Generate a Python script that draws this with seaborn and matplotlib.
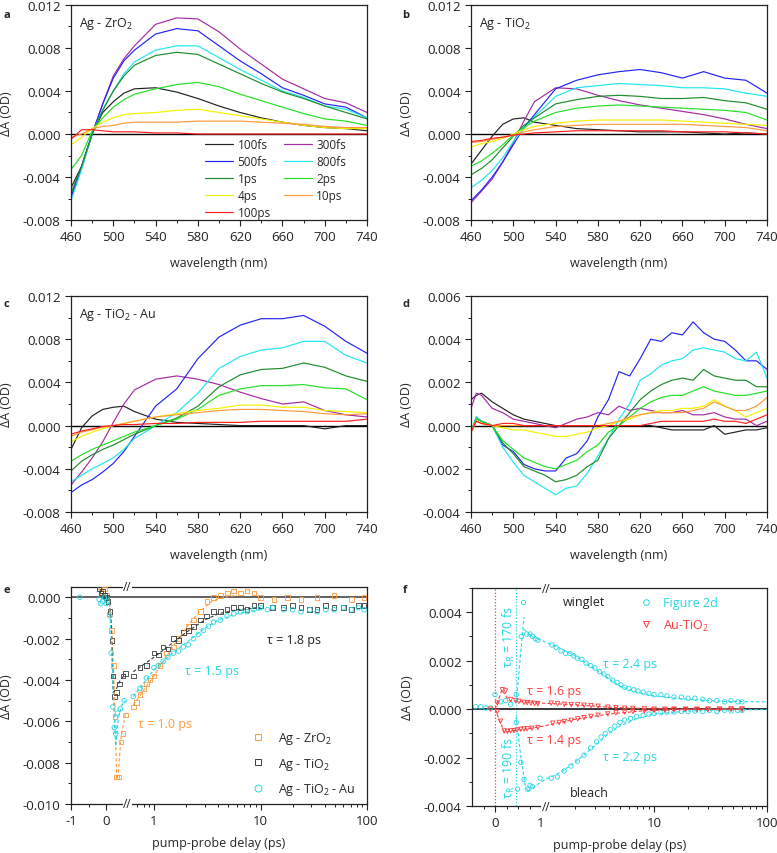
import numpy as np
import pandas as pd
import matplotlib
matplotlib.use("Agg")
import matplotlib.pyplot as plt
import matplotlib.transforms as mtransforms
from matplotlib.lines import Line2D
from matplotlib.ticker import FixedLocator, FormatStrFormatter, MultipleLocator
import seaborn as sns

# ---------------------------------------------------------------- data
DELAYS = ["100fs", "300fs", "500fs", "800fs", "1ps", "2ps", "4ps", "10ps", "100ps"]
DELAY_COLORS = ["#222222", "#a52aa5", "#2323f5", "#1fe6f0", "#1e8c2a",
                "#22e022", "#f2f200", "#ff9a3c", "#ff2020"]

# wavelength grids (nm)
WL = [460, 470, 480, 490, 500, 510, 520, 540, 560, 580, 600, 620, 640, 660, 680, 700, 720, 740]
WL_D = [460, 465, 470, 480, 490, 500, 510, 520, 530, 540, 550, 560, 570, 580, 590,
        600, 610, 620, 630, 640, 650, 660, 670, 680, 690, 700, 710, 720, 730, 740]

# dA spectra in mOD, rows follow DELAYS
SPEC_A = [
    [-5.0, -3.0, 0.0, 2.0, 3.0, 3.8, 4.2, 4.3, 3.9, 3.3, 2.6, 2.0, 1.5, 1.1, 0.8, 0.6, 0.5, 0.3],
    [-6.0, -3.2, 0.0, 2.8, 5.4, 7.0, 8.2, 10.2, 10.8, 10.7, 9.5, 7.9, 6.5, 5.1, 4.2, 3.3, 2.9, 2.0],
    [-5.8, -3.0, 0.0, 2.8, 5.2, 6.8, 7.8, 9.3, 9.8, 9.6, 8.2, 6.8, 5.6, 4.3, 3.6, 2.8, 2.5, 1.5],
    [-6.2, -3.3, 0.0, 2.3, 4.0, 5.6, 6.7, 7.8, 8.2, 8.2, 7.1, 6.0, 5.0, 4.0, 3.4, 2.6, 2.3, 1.5],
    [-5.5, -3.0, 0.0, 2.2, 4.0, 5.4, 6.4, 7.3, 7.6, 7.4, 6.5, 5.6, 4.7, 3.9, 3.3, 2.6, 2.0, 1.4],
    [-3.3, -2.0, 0.3, 1.5, 2.5, 3.2, 3.7, 4.2, 4.6, 4.8, 4.4, 3.7, 3.1, 2.5, 1.9, 1.4, 1.2, 0.8],
    [-1.0, -0.3, 0.5, 1.1, 1.5, 1.8, 1.9, 2.0, 2.2, 2.3, 2.0, 1.7, 1.4, 1.1, 0.8, 0.6, 0.5, 0.5],
    [-0.3, 0.0, 0.5, 0.7, 0.8, 1.0, 1.1, 1.1, 1.1, 1.2, 1.2, 1.2, 1.1, 1.0, 0.9, 0.7, 0.6, 0.6],
    [-0.5, 0.4, 0.4, 0.3, 0.2, 0.2, 0.2, 0.1, 0.1, 0.0, 0.0, 0.0, 0.0, 0.0, 0.0, 0.0, 0.0, 0.0],
]
SPEC_B = [
    [-2.8, -1.5, -0.2, 0.9, 1.4, 1.5, 1.1, 0.8, 0.5, 0.4, 0.3, 0.2, 0.2, 0.2, 0.1, 0.0, 0.1, 0.0],
    [-6.4, -5.3, -4.2, -2.6, -0.8, 1.2, 3.0, 4.3, 4.2, 3.6, 3.1, 2.7, 2.4, 2.1, 1.8, 1.4, 0.9, 0.5],
    [-6.2, -5.2, -4.0, -2.6, -1.0, 0.6, 1.8, 4.2, 5.0, 5.5, 5.8, 6.0, 5.7, 5.2, 5.8, 5.2, 5.0, 3.8],
    [-5.0, -4.3, -3.4, -2.2, -0.7, 0.5, 1.6, 3.5, 4.3, 4.5, 4.7, 4.6, 4.5, 4.3, 4.3, 4.2, 3.8, 3.5],
    [-3.8, -3.2, -2.4, -1.3, -0.2, 0.8, 1.5, 2.8, 3.2, 3.5, 3.6, 3.5, 3.3, 3.3, 3.4, 3.1, 2.9, 2.3],
    [-3.0, -2.5, -1.8, -1.0, -0.1, 0.6, 1.2, 2.0, 2.4, 2.6, 2.7, 2.6, 2.5, 2.4, 2.3, 2.2, 2.0, 1.3],
    [-1.2, -0.9, -0.7, -0.4, 0.0, 0.4, 0.7, 1.0, 1.2, 1.3, 1.3, 1.3, 1.3, 1.2, 1.1, 1.0, 0.9, 0.8],
    [-0.8, -0.7, -0.5, -0.3, -0.1, 0.2, 0.4, 0.7, 0.8, 0.9, 0.9, 0.9, 0.9, 0.9, 0.8, 0.7, 0.6, 0.3],
    [-0.7, -0.6, -0.4, -0.3, -0.1, 0.0, 0.1, 0.2, 0.3, 0.3, 0.3, 0.3, 0.3, 0.2, 0.2, 0.2, 0.1, 0.0],
]
SPEC_C = [
    [-2.2, -0.2, 0.9, 1.5, 1.7, 1.8, 1.3, 0.6, 0.3, 0.2, 0.1, 0.0, 0.0, 0.0, 0.0, -0.3, 0.0, 0.0],
    [-5.5, -4.3, -3.0, -1.5, 0.3, 2.0, 3.3, 4.3, 4.6, 4.3, 3.8, 3.1, 2.5, 2.0, 2.2, 1.4, 1.0, 0.8],
    [-6.2, -5.5, -5.0, -4.3, -3.5, -2.4, -1.0, 1.8, 3.4, 6.2, 8.2, 9.3, 9.9, 9.9, 10.2, 9.2, 7.8, 6.7],
    [-5.2, -4.6, -4.0, -3.5, -3.0, -2.2, -1.2, 0.0, 1.2, 3.0, 5.3, 6.4, 7.0, 7.2, 7.8, 7.8, 6.5, 5.8],
    [-4.2, -3.3, -2.7, -2.2, -1.8, -1.3, -0.8, 0.0, 0.7, 1.8, 3.6, 4.7, 5.2, 5.3, 5.8, 5.4, 4.6, 4.1],
    [-3.3, -2.7, -2.2, -1.8, -1.4, -1.0, -0.6, 0.0, 0.6, 1.5, 2.8, 3.4, 3.7, 3.7, 3.8, 3.5, 3.4, 2.4],
    [-1.5, -1.0, -0.6, -0.3, 0.0, 0.2, 0.4, 0.8, 1.1, 1.4, 1.6, 1.9, 1.9, 1.7, 1.7, 1.4, 1.3, 1.2],
    [-1.0, -0.6, -0.4, -0.1, 0.0, 0.2, 0.4, 0.8, 1.0, 1.2, 1.4, 1.5, 1.5, 1.4, 1.3, 1.1, 1.0, 1.1],
    [-0.8, -0.5, -0.3, -0.1, 0.0, 0.1, 0.1, 0.2, 0.2, 0.3, 0.3, 0.3, 0.4, 0.4, 0.4, 0.4, 0.4, 0.6],
]
SPEC_D = [
    [1.2, 1.4, 1.5, 1.1, 0.8, 0.5, 0.3, 0.2, 0.1, 0.0, 0.0, 0.0, 0.0, 0.0, 0.0,
     0.0, 0.0, 0.0, 0.0, -0.1, -0.2, -0.2, -0.2, -0.2, 0.0, -0.4, -0.3, -0.2, -0.2, -0.1],
    [0.8, 1.5, 1.4, 0.8, 0.6, 0.3, 0.2, 0.1, 0.0, -0.1, 0.1, 0.3, 0.4, 0.6, 0.5,
     0.9, 0.7, 0.8, 0.7, 0.6, 0.6, 0.7, 0.5, 0.5, 0.6, 0.4, 0.3, 0.3, 0.0, 0.2],
    [-0.3, 0.4, 0.2, 0.0, -0.9, -1.2, -1.8, -2.0, -2.1, -2.1, -1.5, -1.3, -0.7, 0.4, 1.2,
     2.5, 2.3, 3.1, 4.0, 3.9, 4.3, 4.2, 4.8, 4.3, 4.0, 3.9, 3.5, 3.0, 3.0, 2.6],
    [-0.3, 0.4, 0.2, 0.0, -1.0, -1.7, -2.3, -2.6, -2.9, -3.2, -2.9, -2.8, -2.2, -1.4, -0.6,
     0.3, 1.0, 2.1, 2.4, 2.8, 3.0, 3.1, 3.5, 3.6, 3.5, 3.4, 3.1, 3.0, 3.4, 2.2],
    [-0.3, 0.3, 0.2, 0.0, -0.8, -1.3, -1.9, -2.1, -2.3, -2.6, -2.5, -2.3, -1.9, -1.6, -0.6,
     0.0, 0.6, 1.2, 1.6, 1.9, 2.1, 2.2, 2.1, 2.6, 2.3, 2.2, 2.1, 2.1, 1.8, 1.8],
    [-0.3, 0.3, 0.2, 0.0, -0.7, -1.1, -1.5, -1.7, -1.9, -2.0, -1.8, -1.6, -1.2, -0.9, -0.3,
     0.0, 0.4, 0.8, 1.1, 1.3, 1.4, 1.4, 1.6, 1.8, 1.6, 1.5, 1.4, 1.4, 1.5, 1.6],
    [-0.3, 0.2, 0.1, 0.0, -0.1, -0.2, -0.2, -0.3, -0.4, -0.5, -0.5, -0.4, -0.3, -0.1, 0.0,
     0.2, 0.3, 0.5, 0.6, 0.7, 0.7, 0.8, 0.8, 0.9, 1.2, 0.9, 0.7, 0.4, 0.6, 0.8],
    [-0.3, 0.2, 0.1, 0.0, 0.0, 0.0, 0.0, 0.0, 0.0, 0.0, 0.0, 0.0, 0.0, 0.0, 0.1,
     0.2, 0.4, 0.5, 0.6, 0.6, 0.6, 0.6, 0.7, 0.8, 1.1, 0.9, 0.7, 0.7, 0.9, 1.3],
    [-0.3, 0.2, 0.1, 0.0, 0.1, 0.1, 0.0, 0.0, 0.0, 0.0, 0.0, 0.0, 0.0, 0.0, 0.0,
     0.0, 0.0, 0.0, 0.1, 0.2, 0.2, 0.2, 0.2, 0.2, 0.3, 0.2, 0.2, 0.1, 0.3, 0.5],
]

# panel e: kinetics (delay in ps, dA in mOD)
E_ZRO2_T = [-0.2, -0.15, -0.1, -0.05, 0.0, 0.05, 0.1, 0.15, 0.2, 0.25, 0.3, 0.35, 0.42, 0.48, 0.54,
            0.64, 0.69, 0.74, 0.8, 0.85, 0.92, 1.0, 1.14, 1.32, 1.52, 1.7, 1.89, 2.1, 2.35, 2.72,
            3.14, 3.63, 4.2, 4.9, 5.6, 6.5, 7.5, 8.7, 10, 13.4, 17.9, 24, 34, 49, 71, 94]
E_ZRO2_Y = [0.5, 0.3, 0.2, 0.4, 0.1, -0.2, -0.8, -1.6, -3.3, -5.8, -8.7, -8.7, -7.0, -6.6, -5.7,
            -5.3, -5.1, -4.7, -4.4, -4.2, -4.0, -3.8, -3.3, -2.7, -2.4, -2.0, -1.7, -1.4, -1.1, -0.7,
            -0.2, 0.0, 0.1, 0.2, 0.3, 0.2, 0.3, 0.2, 0.0, -0.1, 0.0, -0.1, 0.0, 0.1, -0.1, 0.0]
E_TIO2_T = [-0.2, -0.15, -0.1, -0.05, 0.0, 0.05, 0.11, 0.16, 0.19, 0.23, 0.3, 0.38, 0.48, 0.55,
            0.64, 0.74, 0.85, 1.0, 1.1, 1.22, 1.35, 1.52, 1.7, 1.89, 2.1, 2.35, 2.72, 3.1, 3.63,
            4.2, 4.85, 5.6, 6.5, 7.5, 8.7, 10, 13, 16.5, 20, 24, 29, 34, 41, 49, 60, 71, 83, 94]
E_TIO2_Y = [0.4, 0.2, 0.3, 0.1, 0.0, -0.2, -0.7, -2.1, -3.8, -4.8, -4.6, -4.2, -3.8, -3.7,
            -3.8, -3.4, -3.3, -2.7, -2.8, -2.4, -2.5, -2.0, -2.1, -1.7, -1.6, -1.4, -1.1, -0.9, -0.7,
            -0.7, -0.6, -0.5, -0.5, -0.6, -0.4, -0.4, -0.5, -0.5, -0.4, -0.5, -0.6, -0.6, -0.4, -0.5,
            -0.5, -0.6, -0.4, -0.4]
E_AU_T = [-0.75, -0.2, -0.15, -0.1, -0.05, 0.0, 0.04, 0.1, 0.14, 0.19, 0.23, 0.27, 0.32, 0.4, 0.51,
          0.64, 0.74, 0.85, 1.0, 1.1, 1.22, 1.35, 1.52, 1.7, 1.89, 2.1, 2.35, 2.6, 2.9, 3.25, 3.63,
          4.2, 4.85, 5.6, 6.5, 7.5, 8.7, 10, 11.6, 13, 16.5, 20, 24, 29, 34, 41, 49, 60, 71, 83, 94]
E_AU_Y = [0.0, -0.1, -0.3, -0.2, 0.0, -0.3, -0.2, -0.9, -2.7, -5.3, -6.3, -6.6, -5.6, -5.4, -5.0,
          -4.8, -4.4, -3.9, -3.4, -3.3, -3.1, -2.9, -2.7, -2.6, -2.4, -2.3, -2.0, -1.8, -1.6, -1.4,
          -1.2, -1.1, -0.9, -0.8, -0.7, -0.7, -0.6, -0.5, -0.6, -0.5, -0.6, -0.6, -0.7, -0.6, -0.7,
          -0.6, -0.6, -0.5, -0.6, -0.5, -0.6]
# fitted curves, short (before break) and long (after break) parts
E_FIT_ZRO2 = ([0.08, 0.15, 0.22, 0.3, 0.34, 0.42, 0.55], [0.0, -1.3, -4.0, -8.8, -8.6, -6.8, -5.6],
              [0.64, 0.8, 1.0, 1.3, 1.7, 2.2, 2.8, 3.5, 4.5, 6.0], [-5.2, -4.5, -3.8, -2.9, -2.0, -1.2, -0.6, -0.2, 0.0, 0.1])
E_FIT_TIO2 = ([0.08, 0.15, 0.2, 0.3, 0.4, 0.55], [0.0, -1.5, -4.6, -4.4, -4.0, -3.7],
              [0.64, 1.0, 1.5, 2.0, 3.0, 4.0, 6.0, 10.0], [-3.6, -2.9, -2.2, -1.7, -1.1, -0.8, -0.6, -0.5])
E_FIT_AU = ([0.08, 0.15, 0.22, 0.27, 0.35, 0.45, 0.55], [0.0, -2.2, -5.6, -7.2, -5.8, -5.2, -5.0],
            [0.64, 1.0, 1.5, 2.0, 3.0, 4.0, 6.0, 10.0], [-4.8, -3.5, -2.7, -2.2, -1.5, -1.1, -0.8, -0.6])

# panel f: winglet / bleach kinetics (delay in ps, dA in mOD)
F_WING_T = [-0.42, -0.31, -0.2, -0.09, 0.0, 0.12, 0.23, 0.34, 0.46, 0.57, 0.62, 0.69, 0.76, 0.82, 0.88,
            0.93, 1.25, 1.36, 1.5, 1.65, 1.8, 1.95, 2.1, 2.3, 2.5, 2.75, 3.0, 3.3, 3.6, 3.9, 4.3, 4.7,
            5.1, 5.5, 6.0, 6.6, 7.2, 8.0, 9.0, 10, 11.5, 13, 15, 17.5, 20, 23, 27, 31, 36, 42, 48, 55, 60]
F_WING_Y = [0.1, 0.1, 0.05, 0.05, 0.6, 0.3, 0.35, 0.2, 0.6, 3.0, 4.4, 3.1, 3.1, 3.0, 2.9,
            2.85, 2.65, 2.55, 2.4, 2.3, 2.3, 2.2, 2.1, 2.05, 1.9, 1.8, 1.7, 1.55, 1.45, 1.35, 1.2, 1.1,
            1.0, 0.9, 0.85, 0.8, 0.75, 0.7, 0.65, 0.6, 0.6, 0.55, 0.5, 0.5, 0.45, 0.45, 0.4, 0.35,
            0.35, 0.3, 0.35, 0.3, 0.3]
F_BLEACH_T = [0.46, 0.49, 0.56, 0.63, 0.7, 0.76, 0.81, 0.98, 1.23, 1.4, 1.6, 1.84, 2.1, 2.4, 2.75,
              3.1, 3.4, 3.7, 4.1, 4.5, 5.0, 5.5, 6.2, 7.0, 8.0, 9.0, 10, 11.5, 13, 15, 17.5, 20, 23,
              27, 31, 36, 42, 48, 55, 60]
F_BLEACH_Y = [-0.55, -3.3, -2.2, -2.9, -3.3, -3.15, -3.2, -2.85, -2.85, -2.8, -2.55, -2.35, -2.15,
              -1.9, -1.6, -1.35, -1.15, -1.0, -0.85, -0.7, -0.55, -0.45, -0.38, -0.3, -0.25, -0.2,
              -0.18, -0.15, -0.12, -0.12, -0.1, -0.1, -0.08, -0.1, -0.05, -0.1, -0.05, -0.08, -0.05, -0.05]
F_AUP_T = [-0.1, 0.05, 0.16, 0.23, 0.34, 0.45, 0.52, 0.63, 0.7, 0.78, 0.86, 0.93, 1.23, 1.4, 1.61,
           1.85, 2.11, 2.4, 2.77, 3.2, 3.9, 4.6, 5.5, 6.5, 8.2, 10, 12.5, 15, 19, 24, 30, 38, 48, 60]
F_AUP_Y = [0.0, 0.25, 0.8, 0.75, 0.4, 0.35, 0.32, 0.28, 0.27, 0.25, 0.24, 0.22, 0.25, 0.22, 0.2,
           0.19, 0.18, 0.16, 0.14, 0.12, 0.08, 0.06, 0.04, 0.03, 0.01, 0.0, 0.0, 0.0, 0.0, 0.0, 0.0,
           0.0, 0.0, 0.0]
F_AUN_T = [0.05, 0.12, 0.2, 0.27, 0.34, 0.41, 0.48, 0.56, 0.63, 0.7, 0.8, 0.93, 1.27, 1.45, 1.61,
           1.85, 2.11, 2.4, 2.77, 3.2, 3.9, 4.6, 5.5, 6.5, 8.2, 10, 12.5, 15, 19, 24, 30, 38, 48, 60]
F_AUN_Y = [-0.1, -0.5, -0.9, -0.92, -0.9, -0.89, -0.86, -0.83, -0.82, -0.81, -0.79, -0.76, -0.58,
           -0.55, -0.51, -0.46, -0.4, -0.35, -0.3, -0.25, -0.2, -0.15, -0.12, -0.1, -0.07, -0.05,
           -0.04, -0.03, -0.02, -0.02, -0.01, -0.01, 0.0, 0.0]
F_FIT_WING = ([0.46, 0.63], [0.3, 3.8],
              [0.63, 0.8, 1.0, 1.5, 2.0, 3.0, 4.0, 5.0, 7.0, 10, 20, 40, 100],
              [3.3, 3.0, 2.85, 2.5, 2.2, 1.65, 1.25, 0.95, 0.7, 0.55, 0.4, 0.32, 0.3])
F_FIT_BLEACH = ([0.46, 0.55, 0.65, 0.72], [-0.3, -1.8, -3.1, -3.4],
                [0.72, 1.0, 1.5, 2.0, 3.0, 4.0, 5.0, 7.0, 10, 20, 40, 100],
                [-3.4, -3.0, -2.6, -2.2, -1.5, -1.0, -0.7, -0.4, -0.2, -0.08, -0.03, -0.02])
F_FIT_AUP = ([0.0, 0.15, 0.3, 0.6, 1.0, 2.0, 4.0, 8.0, 20, 60],
             [0.0, 0.8, 0.35, 0.3, 0.25, 0.18, 0.08, 0.02, 0.0, 0.0])
F_FIT_AUN = ([0.0, 0.2, 0.4, 0.7, 1.0, 2.0, 4.0, 8.0, 20, 60],
             [0.0, -0.95, -0.88, -0.82, -0.72, -0.42, -0.2, -0.07, -0.01, 0.0])
F_TIME_ZERO = 0.0
F_TIME_RISE = 0.46

CYAN = "#22d8e6"
RED = "#ff3b3b"
ORANGE = "#ff9a3c"
GRAY = "#3a3a3a"
MOD = 1e-3

# ---------------------------------------------------------------- style
sns.set_style("ticks")
plt.rcParams["font.family"] = ["Open Sans", "DejaVu Sans"]
plt.rcParams["axes.unicode_minus"] = False
plt.rcParams["axes.linewidth"] = 0.9
plt.rcParams["xtick.direction"] = "out"
plt.rcParams["ytick.direction"] = "out"
FS = 9


def style_axes(ax):
    for s in ax.spines.values():
        s.set_visible(True)
        s.set_color("#222222")
    ax.tick_params(which="major", length=4, width=0.8, labelsize=FS + 0.5, colors="#222222")
    ax.tick_params(which="minor", length=2.2, width=0.7, colors="#222222")
    ax.tick_params(top=False, right=False, which="both")
    ax.yaxis.set_major_formatter(FormatStrFormatter("%.3f"))
    ax.set_ylabel("ΔA (OD)", fontsize=FS, labelpad=7)


def spectra_frame(wl, rows):
    recs = []
    for name, vals in zip(DELAYS, rows):
        for w, v in zip(wl, vals):
            recs.append((w, v * MOD, name))
    return pd.DataFrame(recs, columns=["wl", "dA", "delay"])


def spectra_panel(ax, wl, rows, ylim, ystep, label=None, legend=False):
    df = spectra_frame(wl, rows)
    sns.lineplot(data=df, x="wl", y="dA", hue="delay", hue_order=DELAYS,
                 palette=DELAY_COLORS, estimator=None, sort=False, lw=0.85,
                 legend=legend, ax=ax)
    ax.axhline(0, color="black", lw=1.0, zorder=1)
    ax.set_xlim(460, 740)
    ax.set_ylim(*ylim)
    ax.xaxis.set_major_locator(FixedLocator(range(460, 741, 40)))
    ax.xaxis.set_minor_locator(FixedLocator(range(480, 741, 40)))
    ax.yaxis.set_major_locator(MultipleLocator(ystep))
    ax.yaxis.set_minor_locator(MultipleLocator(ystep / 2))
    style_axes(ax)
    ax.set_xlabel("wavelength (nm)", fontsize=FS, labelpad=9)
    if label:
        ax.text(0.027, 0.915, label, transform=ax.transAxes, fontsize=FS,
                ha="left", va="center", color="#222222")


def break_marks(fig, ax, xb):
    trans = mtransforms.blended_transform_factory(ax.transData, ax.transAxes)
    for yb in (0, 1):
        ax.text(xb, yb, "//", transform=trans, ha="center", va="center",
                fontsize=8.5, color="#222222", clip_on=False, zorder=6,
                bbox=dict(fc="white", ec="none", pad=0.2))


def open_scatter(ax, t, y, marker, color, s=11):
    sns.scatterplot(x=np.asarray(t), y=np.asarray(y) * MOD, marker=marker, s=s,
                    fc="none", ec=color, linewidth=0.6, ax=ax, zorder=3)


def fit_line(ax, t, y, color):
    sns.lineplot(x=np.asarray(t), y=np.asarray(y) * MOD, color=color, lw=0.8,
                 linestyle=(0, (3, 2)), estimator=None, sort=False, ax=ax, zorder=4)


# broken delay axes: linear near zero, log beyond
def fwd_e(x):
    x = np.asarray(x, dtype=float)
    with np.errstate(all="ignore"):
        lg = 47.5 + 106 * np.log10(np.where(x > 0, x, 1.0))
    return np.where(x <= 0.6, 35 * x, lg)


def inv_e(y):
    y = np.asarray(y, dtype=float)
    return np.where(y <= 22.75, y / 35, 10 ** ((y - 47.5) / 106))


def fwd_f(x):
    x = np.asarray(x, dtype=float)
    with np.errstate(all="ignore"):
        lg = 46 + 113 * np.log10(np.where(x > 0, x, 1.0))
    return np.where(x <= 1.0, 46 * x, lg)


def inv_f(y):
    y = np.asarray(y, dtype=float)
    return np.where(y <= 46, y / 46, 10 ** ((y - 46) / 113))


LOG_MINOR = [2, 3, 4, 5, 6, 7, 8, 9, 20, 30, 40, 50, 60, 70, 80, 90]

# ---------------------------------------------------------------- figure
fig = plt.figure(figsize=(7.77, 8.54), dpi=100)
ax_a = fig.add_axes([0.0914, 0.7412, 0.381, 0.2518])
ax_b = fig.add_axes([0.6062, 0.7412, 0.381, 0.2518])
ax_c = fig.add_axes([0.0914, 0.3993, 0.381, 0.2529])
ax_d = fig.add_axes([0.6062, 0.3993, 0.381, 0.2529])
ax_e = fig.add_axes([0.0914, 0.0574, 0.381, 0.2541])
ax_f = fig.add_axes([0.6075, 0.0550, 0.3797, 0.2553])

spectra_panel(ax_a, WL, SPEC_A, (-0.008, 0.012), 0.004, "Ag - ZrO$_\\mathregular{2}$", legend=True)
spectra_panel(ax_b, WL, SPEC_B, (-0.008, 0.012), 0.004, "Ag - TiO$_\\mathregular{2}$")
spectra_panel(ax_c, WL, SPEC_C, (-0.008, 0.012), 0.004, "Ag - TiO$_\\mathregular{2}$ - Au")
spectra_panel(ax_d, WL_D, SPEC_D, (-0.004, 0.006), 0.002)

h, l = ax_a.get_legend_handles_labels()
order = [0, 2, 4, 6, 8, 1, 3, 5, 7]
ax_a.legend([h[i] for i in order], [l[i] for i in order], ncol=2, frameon=False,
            loc="lower right", bbox_to_anchor=(0.965, -0.045), fontsize=8.5,
            handlelength=2.4, handletextpad=0.35, columnspacing=1.1, labelspacing=0.33)

# ---- panel e
ax = ax_e
ax.set_xscale("function", functions=(fwd_e, inv_e))
ax.axhline(0, color="#555555", lw=1.3, zorder=1)
for t, y, c, m in [(E_ZRO2_T, E_ZRO2_Y, ORANGE, "s"), (E_TIO2_T, E_TIO2_Y, GRAY, "s"),
                   (E_AU_T, E_AU_Y, CYAN, "o")]:
    open_scatter(ax, t, y, m, c)
for fit, c in [(E_FIT_ZRO2, ORANGE), (E_FIT_TIO2, GRAY), (E_FIT_AU, CYAN)]:
    fit_line(ax, fit[0], fit[1], c)
    fit_line(ax, fit[2], fit[3], c)
ax.set_xlim(-1, 100)
ax.set_ylim(-0.010, 0.0005)
ax.xaxis.set_major_locator(FixedLocator([-1, 0, 1, 10, 100]))
ax.xaxis.set_minor_locator(FixedLocator([-0.5, 0.7, 0.8, 0.9] + LOG_MINOR))
ax.set_xticklabels(["-1", "0", "1", "10", "100"])
ax.yaxis.set_major_locator(MultipleLocator(0.002))
ax.yaxis.set_minor_locator(MultipleLocator(0.001))
style_axes(ax)
ax.set_xlabel("pump-probe delay (ps)", fontsize=FS, labelpad=6)
break_marks(fig, ax, 0.6)
ax.text(0.662, 0.756, "τ = 1.8 ps", transform=ax.transAxes, fontsize=FS, color="#222222", va="center")
ax.text(0.385, 0.613, "τ = 1.5 ps", transform=ax.transAxes, fontsize=FS, color=CYAN, va="center")
ax.text(0.226, 0.369, "τ = 1.0 ps", transform=ax.transAxes, fontsize=FS, color=ORANGE, va="center")
e_handles = [
    Line2D([], [], ls="none", marker="s", mfc="none", mec=ORANGE, ms=5, mew=0.7),
    Line2D([], [], ls="none", marker="s", mfc="none", mec=GRAY, ms=5, mew=0.7),
    Line2D([], [], ls="none", marker="o", mfc="none", mec=CYAN, ms=5, mew=0.7),
]
ax.legend(e_handles, ["Ag - ZrO$_\\mathregular{2}$", "Ag - TiO$_\\mathregular{2}$",
                      "Ag - TiO$_\\mathregular{2}$ - Au"],
          loc="lower right", bbox_to_anchor=(1.0, -0.02), frameon=False, fontsize=FS,
          handlelength=1.2, handletextpad=1.0, labelspacing=0.75)

# ---- panel f
ax = ax_f
ax.set_xscale("function", functions=(fwd_f, inv_f))
ax.axvline(F_TIME_ZERO, color=RED, lw=0.9, ls=(0, (1, 1.5)), zorder=1)
ax.axvline(F_TIME_RISE, color=CYAN, lw=0.9, ls=(0, (1, 1.5)), zorder=1)
ax.axhline(0, color="black", lw=1.1, zorder=1)
open_scatter(ax, F_WING_T, F_WING_Y, "o", CYAN, s=10)
open_scatter(ax, F_BLEACH_T, F_BLEACH_Y, "o", CYAN, s=10)
open_scatter(ax, F_AUP_T, F_AUP_Y, "v", RED, s=10)
open_scatter(ax, F_AUN_T, F_AUN_Y, "v", RED, s=10)
for fit in (F_FIT_WING, F_FIT_BLEACH):
    fit_line(ax, fit[0], fit[1], CYAN)
    fit_line(ax, fit[2], fit[3], CYAN)
fit_line(ax, F_FIT_AUP[0], F_FIT_AUP[1], RED)
fit_line(ax, F_FIT_AUN[0], F_FIT_AUN[1], RED)
ax.set_xlim(-0.5, 100)
ax.set_ylim(-0.004, 0.005)
ax.xaxis.set_major_locator(FixedLocator([0, 1, 10, 100]))
ax.xaxis.set_minor_locator(FixedLocator([-0.25, 0.25, 0.5, 0.75] + LOG_MINOR))
ax.set_xticklabels(["0", "1", "10", "100"])
ax.yaxis.set_major_locator(MultipleLocator(0.002))
ax.yaxis.set_minor_locator(MultipleLocator(0.001))
style_axes(ax)
ax.set_xlabel("pump-probe delay (ps)", fontsize=FS, labelpad=6)
break_marks(fig, ax, 1.1)
ax.text(0.308, 0.936, "winglet", transform=ax.transAxes, fontsize=FS, color="#222222", va="center")
ax.text(0.332, 0.064, "bleach", transform=ax.transAxes, fontsize=FS, color="#222222", va="center")
ax.text(0.444, 0.656, "τ = 2.4 ps", transform=ax.transAxes, fontsize=FS, color=CYAN, va="center")
ax.text(0.186, 0.528, "τ = 1.6 ps", transform=ax.transAxes, fontsize=FS, color=RED, va="center")
ax.text(0.186, 0.303, "τ = 1.4 ps", transform=ax.transAxes, fontsize=FS, color=RED, va="center")
ax.text(0.444, 0.229, "τ = 2.2 ps", transform=ax.transAxes, fontsize=FS, color=CYAN, va="center")
ax.text(0.125, 0.78, "τ$_\\mathregular{R}$ = 170 fs", transform=ax.transAxes, fontsize=FS,
        color=CYAN, rotation=90, ha="center", va="center")
ax.text(0.125, 0.179, "τ$_\\mathregular{R}$ = 190 fs", transform=ax.transAxes, fontsize=FS,
        color=CYAN, rotation=90, ha="center", va="center")
f_handles = [
    Line2D([], [], ls="none", marker="o", mfc="none", mec=CYAN, ms=4, mew=0.7),
    Line2D([], [], ls="none", marker="v", mfc="none", mec=RED, ms=4, mew=0.7),
]
ax.legend(f_handles, ["Figure 2d", "Au-TiO$_\\mathregular{2}$"], labelcolor=[CYAN, RED],
          loc="upper right", bbox_to_anchor=(0.87, 1.015), frameon=False, fontsize=FS,
          handlelength=1.0, handletextpad=0.8, labelspacing=0.7)

for lab, (x, y) in zip("abcdef", [(0.004, 0.982), (0.518, 0.982), (0.004, 0.643), (0.518, 0.643),
                                  (0.004, 0.309), (0.518, 0.309)]):
    fig.text(x, y, lab, fontsize=8, fontweight="bold", ha="left", va="center")

fig.savefig("out.png", dpi=100)
